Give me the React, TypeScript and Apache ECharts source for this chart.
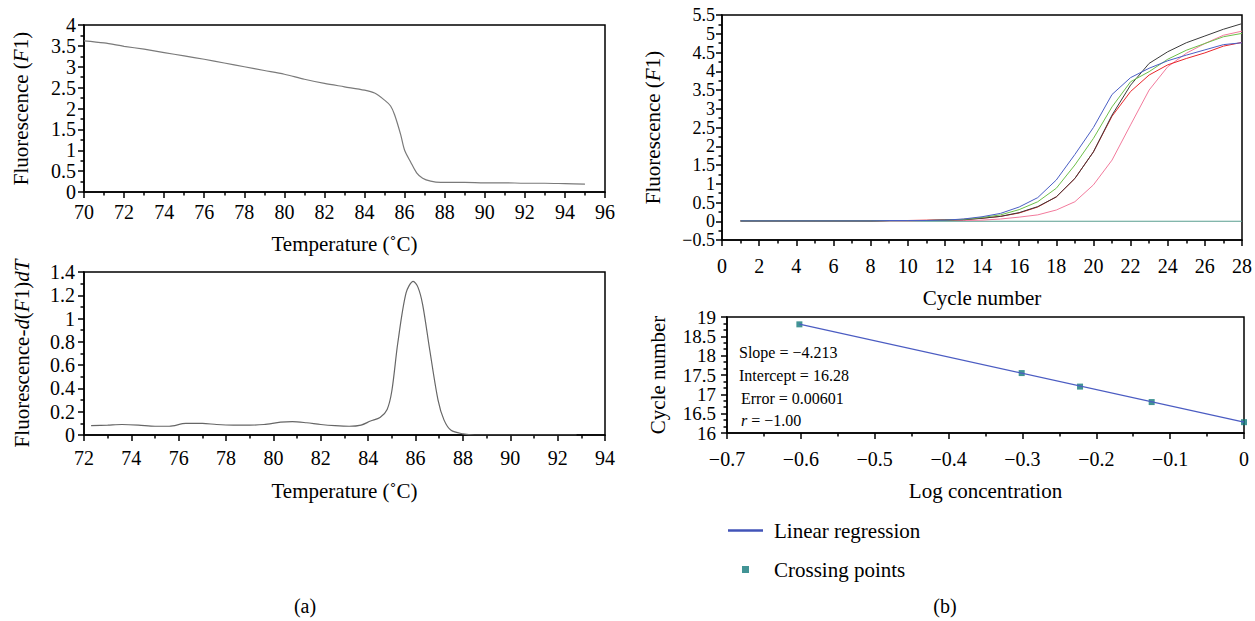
import React, { useEffect, useRef } from "react";
import * as echarts from "echarts";

// ---- Data ----
const meltTemps = [70, 71, 72, 73, 74, 75, 76, 77, 78, 79, 80, 81, 82, 83, 84, 84.5, 85, 85.3, 85.5, 85.8, 86, 86.3, 86.6, 86.9, 87.3, 87.8, 89, 90, 91, 92, 93, 94, 95];
const meltF1 = [3.62, 3.57, 3.49, 3.42, 3.34, 3.26, 3.18, 3.09, 3.0, 2.91, 2.82, 2.7, 2.6, 2.52, 2.44, 2.37, 2.2, 2.06, 1.85, 1.38, 1.0, 0.72, 0.46, 0.33, 0.26, 0.23, 0.23, 0.22, 0.22, 0.21, 0.21, 0.2, 0.19];

const derivTemps = [72.3, 73, 73.6, 74.3, 75, 75.6, 76.3, 77, 77.6, 78.3, 79, 79.6, 80.3, 80.8, 81.4, 82, 82.6, 83.2, 83.7, 84.1, 84.5, 84.8, 85.0, 85.25, 85.6, 85.9, 86.1, 86.3, 86.6, 86.95, 87.2, 87.5, 88, 88.5, 89, 90, 91, 92, 92.8];
const derivVals = [0.08, 0.085, 0.09, 0.085, 0.075, 0.075, 0.1, 0.1, 0.09, 0.085, 0.085, 0.09, 0.11, 0.115, 0.105, 0.09, 0.08, 0.075, 0.085, 0.12, 0.15, 0.22, 0.38, 0.79, 1.22, 1.32, 1.27, 1.12, 0.73, 0.3, 0.13, 0.04, 0.01, 0, 0, 0, 0, 0, 0];

const cycles = [1, 2, 3, 4, 5, 6, 7, 8, 9, 10, 11, 12, 13, 14, 15, 16, 17, 18, 19, 20, 21, 22, 23, 24, 25, 26, 27, 28];
const blueCurve = [0.01, 0.01, 0.01, 0.01, 0.01, 0.01, 0.01, 0.01, 0.02, 0.02, 0.02, 0.03, 0.06, 0.12, 0.21, 0.38, 0.63, 1.1, 1.78, 2.5, 3.38, 3.83, 4.08, 4.28, 4.43, 4.57, 4.71, 4.76];
const greenCurve = [0.01, 0.01, 0.01, 0.01, 0.01, 0.01, 0.01, 0.01, 0.02, 0.02, 0.02, 0.03, 0.05, 0.1, 0.17, 0.31, 0.52, 0.88, 1.5, 2.21, 3.05, 3.72, 3.99, 4.32, 4.56, 4.74, 4.92, 5.01];
const blackCurve = [0.01, 0.01, 0.01, 0.01, 0.01, 0.01, 0.01, 0.01, 0.02, 0.02, 0.02, 0.03, 0.04, 0.08, 0.13, 0.23, 0.39, 0.65, 1.14, 1.85, 2.83, 3.63, 4.21, 4.52, 4.76, 4.94, 5.12, 5.27];
const redCurve = [0.01, 0.01, 0.01, 0.01, 0.01, 0.01, 0.01, 0.01, 0.02, 0.02, 0.03, 0.04, 0.05, 0.08, 0.13, 0.22, 0.38, 0.65, 1.14, 1.85, 2.8, 3.46, 3.9, 4.17, 4.34, 4.49, 4.67, 4.77];
const pinkCurve = [0.01, 0.01, 0.01, 0.01, 0.01, 0.01, 0.01, 0.01, 0.01, 0.01, 0.02, 0.02, 0.02, 0.03, 0.06, 0.11, 0.17, 0.3, 0.52, 0.97, 1.63, 2.57, 3.5, 4.12, 4.48, 4.74, 4.96, 5.07];
const thresholdX = [1, 28];
const thresholdY = [0, 0];

const logConc = [-0.602, -0.301, -0.222, -0.125, 0];
const crossingCycles = [18.81, 17.55, 17.2, 16.8, 16.28];
const regressionX = [-0.602, 0];
const regressionY = [18.816, 16.28];

const statTexts = ["Slope = \u22124.213", "Intercept = 16.28", "Error = 0.00601"];

// ---- Styles ----
const SERIF = "'Liberation Serif', 'Times New Roman', serif";
const FS = 20; // tick labels
const NS = 21; // axis names / legend

const zip = (xs: number[], ys: number[]) => xs.map((x, i) => [x, ys[i]]);
const minusFmt = (v: number) => {
  const s = Math.abs(v) < 1e-9 ? "0" : String(Math.round(v * 100) / 100);
  return s.replace("-", "\u2212");
};

const lbl = (margin: number, size: number = FS) => ({
  color: "#000",
  fontSize: size,
  fontFamily: SERIF,
  lineHeight: size - 2,
  margin,
  formatter: minusFmt,
  showMinLabel: true,
  showMaxLabel: true,
  hideOverlap: false,
});

function axis(opts: any) {
  return {
    type: "value",
    splitLine: { show: false },
    axisLine: { show: true, onZero: false, lineStyle: { color: "#000", width: 1.5 } },
    axisTick: { show: true, inside: false, length: 6, lineStyle: { color: "#000", width: 1.5 } },
    minorTick: { show: true, splitNumber: 2, length: 3.5, lineStyle: { color: "#000", width: 1.5 } },
    nameLocation: "middle",
    nameTextStyle: {
      color: "#000",
      fontSize: NS,
      fontFamily: SERIF,
      rich: {
        n: { fontSize: NS, fontFamily: SERIF, color: "#000" },
        i: { fontSize: NS, fontFamily: SERIF, color: "#000", fontStyle: "italic" },
      },
    },
    ...opts,
  };
}

const gridStyle = { show: true, borderColor: "#000", borderWidth: 1.5, containLabel: false };

export default function App() {
  const ref = useRef<HTMLDivElement>(null);
  useEffect(() => {
    if (!ref.current) return;
    const chart = echarts.init(ref.current, undefined, { renderer: "svg" });
    const option: any = {
      animation: false,
      backgroundColor: "#fff",
      grid: [
        { ...gridStyle, left: 84, top: 25, width: 521, height: 167 },
        { ...gridStyle, left: 84, top: 272, width: 521, height: 163 },
        { ...gridStyle, left: 722, top: 15, width: 522, height: 225 },
        { ...gridStyle, left: 727, top: 317, width: 517, height: 116 },
      ],
      xAxis: [
        axis({ gridIndex: 0, min: 70, max: 96, interval: 2, name: "Temperature (\u02DAC)", nameGap: 41, axisLabel: lbl(11) }),
        axis({ gridIndex: 1, min: 72, max: 94, interval: 2, name: "Temperature (\u02DAC)", nameGap: 45, axisLabel: lbl(14) }),
        axis({ gridIndex: 2, min: 0, max: 28, interval: 2, name: "Cycle number", nameGap: 47, axisLabel: lbl(17) }),
        axis({ gridIndex: 3, min: -0.7, max: 0, interval: 0.1, name: "Log concentration", nameGap: 47, axisLabel: lbl(17) }),
      ],
      yAxis: [
        axis({ gridIndex: 0, min: 0, max: 4, interval: 0.5, name: "{n|Fluorescence (}{i|F}{n|1)}", nameGap: 53, axisLabel: lbl(8) }),
        axis({ gridIndex: 1, min: 0, max: 1.4, interval: 0.2, name: "{n|Fluorescence-}{i|d}{n|(}{i|F}{n|1)}{i|dT}", nameGap: 52, axisLabel: lbl(9) }),
        axis({ gridIndex: 2, min: -0.5, max: 5.5, interval: 0.5, name: "{n|Fluorescence (}{i|F}{n|1)}", nameGap: 59, axisLabel: lbl(7, 18) }),
        axis({ gridIndex: 3, min: 16, max: 19, interval: 0.5, name: "Cycle number", nameGap: 59, minorTick: { show: true, splitNumber: 3, length: 3.5, lineStyle: { color: "#000", width: 1.5 } }, axisLabel: lbl(11, 19) }),
      ],
      legend: [
        {
          data: [{ name: "Linear regression", icon: "rect" }],
          left: 728,
          top: 520,
          padding: 0,
          itemWidth: 35,
          itemHeight: 2.5,
          textStyle: { color: "#000", fontSize: NS, fontFamily: SERIF, padding: [0, 0, 0, 6] },
        },
        {
          data: [{ name: "Crossing points", icon: "rect" }],
          left: 742,
          top: 559,
          padding: 0,
          itemWidth: 7,
          itemHeight: 7,
          textStyle: { color: "#000", fontSize: NS, fontFamily: SERIF, padding: [0, 0, 0, 20] },
        },
      ],
      series: [
        { type: "line", name: "Melt", xAxisIndex: 0, yAxisIndex: 0, data: zip(meltTemps, meltF1), symbol: "none", smooth: 0.3, lineStyle: { color: "#7a7a7a", width: 1.2 } },
        { type: "line", name: "Derivative", xAxisIndex: 1, yAxisIndex: 1, data: zip(derivTemps, derivVals), symbol: "none", smooth: 0.3, lineStyle: { color: "#666", width: 1.2 } },
        { type: "line", name: "Threshold", xAxisIndex: 2, yAxisIndex: 2, data: zip(thresholdX, thresholdY), symbol: "none", lineStyle: { color: "#5a9e8f", width: 1.2 } },
        { type: "line", name: "S1", xAxisIndex: 2, yAxisIndex: 2, data: zip(cycles, pinkCurve), symbol: "none", lineStyle: { color: "#f27a9c", width: 1 } },
        { type: "line", name: "S2", xAxisIndex: 2, yAxisIndex: 2, data: zip(cycles, redCurve), symbol: "none", lineStyle: { color: "#e8262b", width: 1 } },
        { type: "line", name: "S3", xAxisIndex: 2, yAxisIndex: 2, data: zip(cycles, blackCurve), symbol: "none", lineStyle: { color: "#3a3a3a", width: 1 } },
        { type: "line", name: "S4", xAxisIndex: 2, yAxisIndex: 2, data: zip(cycles, greenCurve), symbol: "none", lineStyle: { color: "#6cbf4a", width: 1 } },
        { type: "line", name: "S5", xAxisIndex: 2, yAxisIndex: 2, data: zip(cycles, blueCurve), symbol: "none", lineStyle: { color: "#4a5ec4", width: 1 } },
        { type: "line", name: "Linear regression", xAxisIndex: 3, yAxisIndex: 3, data: zip(regressionX, regressionY), symbol: "none", itemStyle: { color: "#4254b8" }, lineStyle: { color: "#4b5cc2", width: 1.2 } },
        { type: "scatter", name: "Crossing points", xAxisIndex: 3, yAxisIndex: 3, data: zip(logConc, crossingCycles), symbol: "rect", symbolSize: 6, itemStyle: { color: "#13797a" } },
      ],
      graphic: [
        { type: "text", left: 739, top: 344, style: { text: statTexts[0], fontSize: 16, fontFamily: SERIF, fill: "#000" } },
        { type: "text", left: 739, top: 367, style: { text: statTexts[1], fontSize: 16, fontFamily: SERIF, fill: "#000" } },
        { type: "text", left: 741, top: 390, style: { text: statTexts[2], fontSize: 16, fontFamily: SERIF, fill: "#000" } },
        {
          type: "text",
          left: 741,
          top: 412,
          style: {
            text: "{i|r}{n| = \u22121.00}",
            rich: {
              i: { fontSize: 16, fontFamily: SERIF, fill: "#000", fontStyle: "italic" },
              n: { fontSize: 16, fontFamily: SERIF, fill: "#000" },
            },
          },
        },
        { type: "text", x: 305, y: 606, style: { text: "(a)", fontSize: 20, fontFamily: SERIF, fill: "#000", align: "center", verticalAlign: "middle" } },
        { type: "text", x: 945, y: 606, style: { text: "(b)", fontSize: 20, fontFamily: SERIF, fill: "#000", align: "center", verticalAlign: "middle" } },
      ],
    };
    chart.setOption(option);
    return () => chart.dispose();
  }, []);
  return <div ref={ref} style={{ position: "fixed", left: 0, top: 0, width: 1255, height: 621 }} />;
}
